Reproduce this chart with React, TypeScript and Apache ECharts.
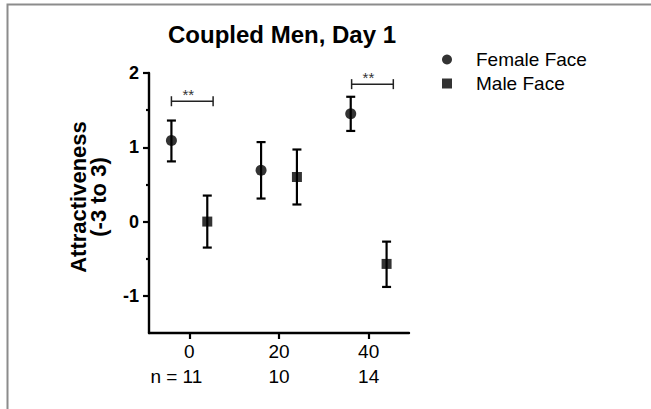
import { useEffect, useRef } from "react";
import * as echarts from "echarts";

const chartTitle = "Coupled Men, Day 1";
const yAxisTitle = "Attractiveness\n(-3 to 3)";
const seriesNames = ["Female Face", "Male Face"];

const femaleX = [-4, 16, 36];
const femaleMean = [1.09, 0.69, 1.45];
const femaleLow = [0.81, 0.31, 1.22];
const femaleHigh = [1.36, 1.07, 1.68];

const maleX = [4, 24, 44];
const maleMean = [0.0, 0.6, -0.57];
const maleLow = [-0.35, 0.23, -0.88];
const maleHigh = [0.35, 0.97, -0.27];

const xTicks = [0, 20, 40];
const nLabels = ["n = 11", "10", "14"];
const yMajorTicks = [-1, 0, 1, 2];
const yMinorTicks = [-0.5, 0.5, 1.5];

const bracketStart = [-4, 36.2];
const bracketEnd = [5.3, 45.5];
const bracketY = [1.62, 1.85];
const bracketLabels = ["**", "**"];

const FONT = "'Liberation Sans', Arial, Helvetica, sans-serif";

export default function App() {
  const ref = useRef<HTMLDivElement>(null);

  useEffect(() => {
    if (!ref.current) return;
    const chart = echarts.init(ref.current, null, { renderer: "svg" });

    const errRender = (params: any, api: any) => {
      const x = api.value(0);
      const lo = api.value(1);
      const hi = api.value(2);
      const pLo = api.coord([x, lo]);
      const pHi = api.coord([x, hi]);
      const w = 4.5;
      const st = { stroke: "#000", lineWidth: 2.2 };
      return {
        type: "group",
        children: [
          { type: "line", shape: { x1: pLo[0], y1: pLo[1], x2: pHi[0], y2: pHi[1] }, style: st },
          { type: "line", shape: { x1: pLo[0] - w, y1: pLo[1], x2: pLo[0] + w, y2: pLo[1] }, style: st },
          { type: "line", shape: { x1: pHi[0] - w, y1: pHi[1], x2: pHi[0] + w, y2: pHi[1] }, style: st },
        ],
      };
    };

    const bracketRender = (params: any, api: any) => {
      const x1 = api.value(0);
      const x2 = api.value(1);
      const y = api.value(2);
      const p1 = api.coord([x1, y]);
      const p2 = api.coord([x2, y]);
      const st = { stroke: "#222", lineWidth: 1.5 };
      const h = 5;
      return {
        type: "group",
        children: [
          { type: "line", shape: { x1: p1[0], y1: p1[1], x2: p2[0], y2: p2[1] }, style: st },
          { type: "line", shape: { x1: p1[0], y1: p1[1] - h, x2: p1[0], y2: p1[1] + h }, style: st },
          { type: "line", shape: { x1: p2[0], y1: p2[1] - h, x2: p2[0], y2: p2[1] + h }, style: st },
          {
            type: "text",
            x: (p1[0] + p2[0]) / 2 - 4,
            y: p1[1] - 7,
            style: {
              text: bracketLabels[params.dataIndex],
              fill: "#333",
              font: `15px ${FONT}`,
              textAlign: "center",
              textVerticalAlign: "middle",
            },
          },
        ],
      };
    };

    const option: any = {
      animation: false,
      backgroundColor: "#fff",
      textStyle: { fontFamily: FONT, color: "#000" },
      title: {
        text: chartTitle,
        left: 163,
        top: 17,
        textStyle: { fontSize: 24, fontWeight: "bold", color: "#000", fontFamily: FONT },
      },
      legend: {
        orient: "vertical",
        left: 437,
        top: 45,
        itemWidth: 48,
        itemHeight: 10,
        itemGap: 5,
        selectedMode: false,
        textStyle: { fontSize: 19, color: "#000", fontFamily: FONT },
        data: [
          { name: seriesNames[0], icon: "circle" },
          { name: seriesNames[1], icon: "path://M0,0L10,0L10,10L0,10Z" },
        ],
      },
      grid: { left: 149, right: 242, top: 73, bottom: 76 },
      xAxis: {
        type: "value",
        min: -9,
        max: 49,
        axisLine: { show: true, onZero: false, lineStyle: { color: "#000", width: 2.4 } },
        axisTick: { show: true, customValues: xTicks, length: 6, lineStyle: { color: "#000", width: 2.2 } },
        splitLine: { show: false },
        axisLabel: {
          customValues: xTicks,
          color: "#000",
          fontSize: 19,
          lineHeight: 25,
          margin: 6,
          fontFamily: FONT,
          formatter: (v: number) => {
            const i = xTicks.indexOf(v);
            const n = i >= 0 ? nLabels[i] : "";
            return i === 0 ? `${v}\n${n}{p| }` : `${v}\n${n}`;
          },
          rich: { p: { width: 26, fontSize: 19, lineHeight: 25 } },
        },
      },
      yAxis: [
        {
          type: "value",
          min: -1.5,
          max: 2,
          position: "left",
          axisLine: { show: true, onZero: false, lineStyle: { color: "#000", width: 2.4 } },
          axisTick: { show: true, customValues: yMajorTicks, length: 6, lineStyle: { color: "#000", width: 2.2 } },
          splitLine: { show: false },
          axisLabel: {
            customValues: yMajorTicks,
            color: "#000",
            fontSize: 18,
            fontWeight: "bold",
            margin: 10,
            fontFamily: FONT,
          },
        },
        {
          type: "value",
          min: -1.5,
          max: 2,
          position: "left",
          axisLine: { show: false, onZero: false },
          axisTick: { show: true, customValues: yMinorTicks, length: 3, lineStyle: { color: "#000", width: 2.2 } },
          splitLine: { show: false },
          axisLabel: { show: false },
        },
      ],
      graphic: [
        {
          type: "polyline",
          shape: { points: [[7.5, 409], [7.5, 4.5], [651, 4.5]] },
          style: { stroke: "#8c8c8c", lineWidth: 2, fill: "none" },
          silent: true,
        },
        {
          type: "text",
          x: 88.5,
          y: 197,
          rotation: Math.PI / 2,
          style: {
            text: yAxisTitle,
            fill: "#000",
            font: `bold 22px ${FONT}`,
            lineHeight: 20,
            textAlign: "center",
            textVerticalAlign: "middle",
          },
        },
      ],
      series: [
        {
          name: "Female error",
          type: "custom",
          renderItem: errRender,
          data: femaleX.map((x, i) => [x, femaleLow[i], femaleHigh[i]]),
          z: 2,
        },
        {
          name: "Male error",
          type: "custom",
          renderItem: errRender,
          data: maleX.map((x, i) => [x, maleLow[i], maleHigh[i]]),
          z: 2,
        },
        {
          name: "Significance",
          type: "custom",
          renderItem: bracketRender,
          data: bracketStart.map((x, i) => [x, bracketEnd[i], bracketY[i]]),
          z: 2,
        },
        {
          name: seriesNames[0],
          type: "scatter",
          symbol: "circle",
          symbolSize: 11,
          itemStyle: { color: "#000" },
          data: femaleX.map((x, i) => [x, femaleMean[i]]),
          z: 3,
        },
        {
          name: seriesNames[1],
          type: "scatter",
          symbol: "rect",
          symbolSize: 10,
          itemStyle: { color: "#000" },
          data: maleX.map((x, i) => [x, maleMean[i]]),
          z: 3,
        },
      ],
    };

    chart.setOption(option);
    return () => chart.dispose();
  }, []);

  return (
    <div
      ref={ref}
      style={{ position: "fixed", left: 0, top: 0, width: 651, height: 409, background: "#fff" }}
    />
  );
}
